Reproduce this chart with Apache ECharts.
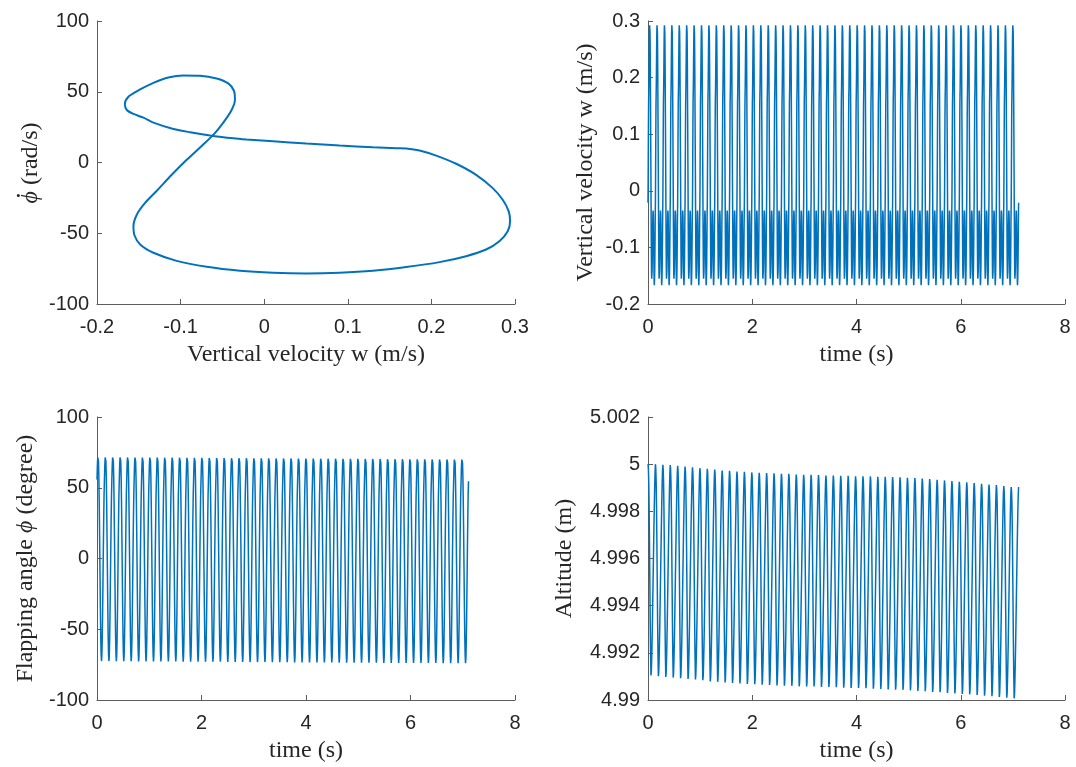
<!DOCTYPE html>
<html>
<head>
<meta charset="utf-8">
<title>Flapping flight: limit cycle and time histories</title>
<script src="https://cdn.jsdelivr.net/npm/echarts@6/dist/echarts.min.js"></script>
<style>
  html, body { margin: 0; padding: 0; background: #ffffff; }
  #chart { width: 1076px; height: 767px; }
</style>
</head>
<body>
<div id="chart"></div>
<script>
// ---- data ---------------------------------------------------------------

const CYCLES = 50;        // wing strokes in the record
const PERIOD = 0.1422;    // stroke period (s)

// One orbit of the limit cycle, time-ordered: [w (m/s), phi-dot (rad/s)]
const orbit = [
  [-0.0211, 16.2], [0.0107, 15.0], [0.0505, 13.4], [0.0903, 12.0], [0.1301, 10.8],
  [0.1580, 10.1], [0.1699, 9.9], [0.1858, 8.5], [0.2057, 4.9], [0.2296, -0.9],
  [0.2535, -8.7], [0.2734, -18.1], [0.2853, -26.3], [0.2925, -34.5], [0.2941, -41.5],
  [0.2913, -48.6], [0.2813, -55.6], [0.2654, -61.5], [0.2415, -66.2], [0.2097, -70.4],
  [0.1699, -73.9], [0.1301, -76.5], [0.0903, -77.9], [0.0505, -78.4], [0.0107, -77.9],
  [-0.0290, -76.5], [-0.0688, -73.7], [-0.1047, -69.5], [-0.1325, -63.8], [-0.1484, -58.0],
  [-0.1552, -51.4], [-0.1564, -45.1], [-0.1524, -36.9], [-0.1425, -28.6], [-0.1285, -20.0],
  [-0.1106, -8.7], [-0.0927, 1.9], [-0.0748, 11.7], [-0.0609, 19.5], [-0.0489, 28.2],
  [-0.0390, 37.1], [-0.0350, 44.6], [-0.0362, 50.7], [-0.0430, 55.9], [-0.0569, 59.4],
  [-0.0768, 61.3], [-0.0967, 61.5], [-0.1146, 60.1], [-0.1325, 56.3], [-0.1484, 51.6],
  [-0.1624, 46.5], [-0.1667, 41.1], [-0.1643, 37.1], [-0.1564, 34.3], [-0.1444, 31.7],
  [-0.1325, 28.2], [-0.1086, 23.7], [-0.0887, 21.4], [-0.0609, 18.8], [-0.0370, 17.1]
];

// Flapping angle over one stroke, relative to the stroke's extreme (+1 peak, -1 trough)
const phiStroke = [0.77, 0.91, 0.986, 1.0, 0.95, 0.80, 0.55, 0.23, -0.11, -0.455,
                   -0.745, -0.924, -1.0, -0.952, -0.80, -0.552, -0.248, 0.069, 0.372, 0.62];
// Stroke extremes of the flapping angle (deg)
const phiPeaks = [72.4, 72.4, 72.4, 72.4, 72.4, 72.3, 72.3, 72.3, 72.3, 72.2,
                  72.2, 72.2, 72.1, 72.1, 72.1, 72.0, 72.0, 72.0, 71.9, 71.9,
                  71.9, 71.8, 71.8, 71.8, 71.7, 71.7, 71.7, 71.6, 71.6, 71.6,
                  71.5, 71.5, 71.5, 71.4, 71.4, 71.4, 71.3, 71.3, 71.3, 71.2,
                  71.2, 71.2, 71.1, 71.1, 71.1, 71.0, 71.0, 71.0, 70.9, 70.9];
const phiTroughs = [-72.5, -72.5, -72.6, -72.6, -72.6, -72.7, -72.7, -72.7, -72.8, -72.8,
                    -72.8, -72.9, -72.9, -72.9, -73.0, -73.0, -73.0, -73.1, -73.1, -73.1,
                    -73.2, -73.2, -73.2, -73.3, -73.3, -73.3, -73.4, -73.4, -73.4, -73.5,
                    -73.5, -73.5, -73.6, -73.6, -73.6, -73.7, -73.7, -73.7, -73.8, -73.8,
                    -73.8, -73.8, -73.9, -73.9, -73.9, -73.9, -74.0, -74.0, -74.0, -74.0];

// Altitude over one stroke, scaled between the stroke's trough (0) and peak (1)
const altStroke = [1.0, 0.98, 0.92, 0.80, 0.63, 0.44, 0.25, 0.10, 0.0, 0.02,
                   0.08, 0.16, 0.26, 0.37, 0.48, 0.59, 0.70, 0.80, 0.89, 0.96];
// Stroke extremes of the altitude (m)
const altPeaks = [5.00000, 5.00000, 4.99997, 4.99996, 4.99993, 4.99990, 4.99987, 4.99983, 4.99980, 4.99977,
                  4.99973, 4.99972, 4.99969, 4.99968, 4.99965, 4.99963, 4.99962, 4.99961, 4.99959, 4.99959,
                  4.99956, 4.99955, 4.99955, 4.99954, 4.99952, 4.99952, 4.99951, 4.99951, 4.99949, 4.99949,
                  4.99948, 4.99946, 4.99946, 4.99945, 4.99944, 4.99942, 4.99941, 4.99939, 4.99937, 4.99934,
                  4.99931, 4.99928, 4.99925, 4.99923, 4.99920, 4.99917, 4.99914, 4.99911, 4.99907, 4.99903];
const altTroughs = [4.99104, 4.99101, 4.99098, 4.99095, 4.99092, 4.99089, 4.99087, 4.99084, 4.99079, 4.99077,
                    4.99074, 4.99072, 4.99070, 4.99068, 4.99067, 4.99065, 4.99064, 4.99062, 4.99061, 4.99060,
                    4.99058, 4.99057, 4.99057, 4.99055, 4.99055, 4.99054, 4.99052, 4.99051, 4.99051, 4.99050,
                    4.99048, 4.99047, 4.99045, 4.99044, 4.99043, 4.99041, 4.99038, 4.99037, 4.99034, 4.99033,
                    4.99030, 4.99028, 4.99026, 4.99024, 4.99021, 4.99018, 4.99016, 4.99013, 4.99010, 4.99007];

// Axis ticks
const wTicks = [-0.2, -0.1, 0, 0.1, 0.2, 0.3];
const phiDotTicks = [-100, -50, 0, 50, 100];
const timeTicks = [0, 2, 4, 6, 8];
const phiTicks = [-100, -50, 0, 50, 100];
const altTicks = [4.99, 4.992, 4.994, 4.996, 4.998, 5, 5.002];

// ---- series assembly ----------------------------------------------------

const phaseData = orbit.concat([orbit[0]]);

const wData = [];
for (let c = 0; c < CYCLES; c++) {
  for (let k = 0; k < orbit.length; k++) {
    wData.push([(c + k / orbit.length) * PERIOD, orbit[k][0]]);
  }
}
wData.push([CYCLES * PERIOD, orbit[0][0]]);

const phiData = [];
for (let c = 0; c < CYCLES; c++) {
  for (let k = 0; k < phiStroke.length; k++) {
    const s = phiStroke[k];
    const v = s >= 0 ? s * phiPeaks[c] : -s * phiTroughs[c];
    phiData.push([(c + k / phiStroke.length) * PERIOD, v]);
  }
}
phiData.push([CYCLES * PERIOD, phiStroke[0] * phiPeaks[CYCLES - 1]]);

const altData = [];
for (let c = 0; c < CYCLES; c++) {
  for (let k = 0; k < altStroke.length; k++) {
    const v = altTroughs[c] + altStroke[k] * (altPeaks[c] - altTroughs[c]);
    altData.push([(c + k / altStroke.length) * PERIOD, v]);
  }
}
altData.push([CYCLES * PERIOD, altPeaks[CYCLES - 1]]);

// ---- styling ------------------------------------------------------------

const LINE = '#0072BD';
const AXIS = '#5c5c5c';
const TEXT = '#262626';
const SANS = '"Liberation Sans", Arial, sans-serif';
const SERIF = '"Liberation Serif", "Times New Roman", serif';
const NAME_SIZE = 24;

const fmt = v => String(parseFloat(Number(v).toFixed(4)));

function axis(ticks, gridIndex, name, nameGap, isY) {
  return {
    type: 'value',
    gridIndex: gridIndex,
    min: ticks[0],
    max: ticks[ticks.length - 1],
    interval: +(ticks[1] - ticks[0]).toFixed(6),
    name: name,
    nameLocation: 'middle',
    nameGap: nameGap,
    nameTextStyle: {
      fontFamily: SERIF, fontSize: NAME_SIZE, color: TEXT,
      rich: {
        i: { fontFamily: SERIF, fontStyle: 'italic', fontSize: NAME_SIZE, color: TEXT }
      }
    },
    axisLine: { show: true, onZero: false, lineStyle: { color: AXIS, width: 1 } },
    axisTick: { show: true, inside: true, length: 5, lineStyle: { color: AXIS, width: 1 } },
    axisLabel: {
      show: true, color: TEXT, fontFamily: SANS, fontSize: 20,
      margin: isY ? 8 : 13, formatter: fmt,
      showMinLabel: true, showMaxLabel: true
    },
    splitLine: { show: false }
  };
}

const grids = [
  { left: 97, top: 21, width: 418, height: 283 },
  { left: 648, top: 21, width: 417, height: 283 },
  { left: 97, top: 417, width: 418, height: 283 },
  { left: 648, top: 417, width: 417, height: 283 }
].map(g => Object.assign({ outerBoundsMode: 'none', containLabel: false }, g));

function lineSeries(data, i, width, smooth) {
  return {
    type: 'line', xAxisIndex: i, yAxisIndex: i, data: data,
    showSymbol: false, symbol: 'none', smooth: smooth || false,
    lineStyle: { color: LINE, width: width },
    clip: false, silent: true, animation: false
  };
}

// Rate label "phi-dot (rad/s)": upright vertical title with a dot over the symbol
const rateSym = '\u03D5';
const rateRest = ' (rad/s)';
const symFont = 'italic ' + NAME_SIZE + 'px "Liberation Serif"';
const restFont = NAME_SIZE + 'px "Liberation Serif"';
const mctx = document.createElement('canvas').getContext('2d');
mctx.textBaseline = 'middle';
mctx.font = symFont;
const symM = mctx.measureText(rateSym);
mctx.font = restFont;
const restW = mctx.measureText(rateRest).width;
const totalW = symM.width + restW;
const symTop = symM.actualBoundingBoxAscent || NAME_SIZE * 0.45;
const symMid = ((symM.actualBoundingBoxRight || symM.width) - (symM.actualBoundingBoxLeft || 0)) / 2;

const rateTitle = {
  type: 'group', x: 31, y: 163, rotation: Math.PI / 2, silent: true,
  children: [
    { type: 'text', x: -totalW / 2, y: 0,
      style: { text: rateSym, font: symFont, fill: TEXT, align: 'left', verticalAlign: 'middle' } },
    { type: 'text', x: -totalW / 2 + symM.width, y: 0,
      style: { text: rateRest, font: restFont, fill: TEXT, align: 'left', verticalAlign: 'middle' } },
    { type: 'circle', shape: { cx: -totalW / 2 + symMid + 2, cy: -symTop - 3, r: 1.5 },
      style: { fill: TEXT } }
  ]
};

const chart = echarts.init(document.getElementById('chart'), null, { renderer: 'canvas' });
chart.setOption({
  animation: false,
  backgroundColor: '#ffffff',
  grid: grids,
  graphic: [rateTitle],
  xAxis: [
    axis(wTicks, 0, 'Vertical velocity w (m/s)', 39, false),
    axis(timeTicks, 1, 'time (s)', 39, false),
    axis(timeTicks, 2, 'time (s)', 39, false),
    axis(timeTicks, 3, 'time (s)', 39, false)
  ],
  yAxis: [
    axis(phiDotTicks, 0, '', 56, true),
    axis(wTicks, 1, 'Vertical velocity w (m/s)', 50, true),
    axis(phiTicks, 2, 'Flapping angle {i|\u03D5} (degree)', 59, true),
    axis(altTicks, 3, 'Altitude (m)', 71, true)
  ],
  series: [
    lineSeries(phaseData, 0, 2, 0.3),
    lineSeries(wData, 1, 1.5),
    lineSeries(phiData, 2, 1.5),
    lineSeries(altData, 3, 1.5)
  ]
});
</script>
</body>
</html>
